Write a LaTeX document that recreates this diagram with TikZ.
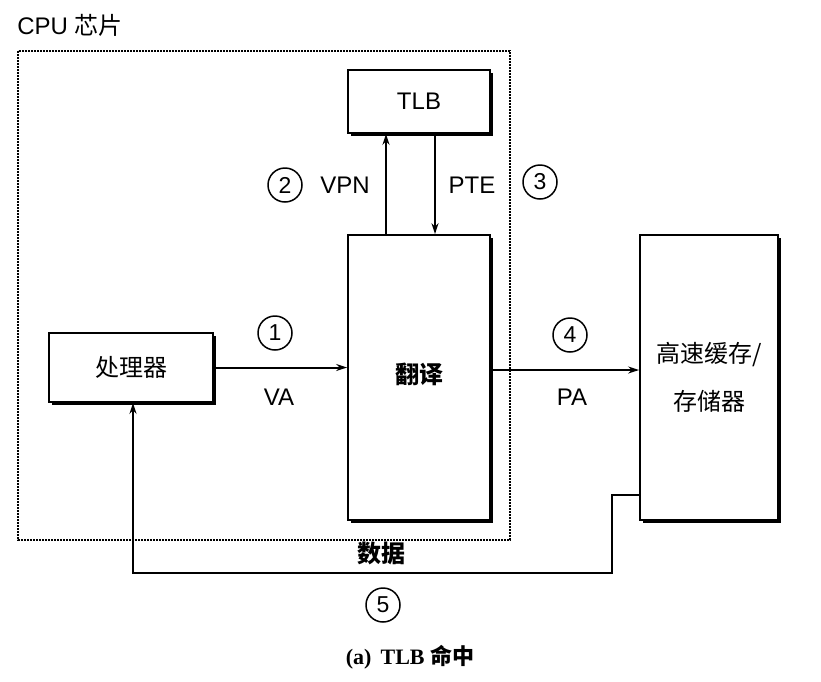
\documentclass[tikz,border=0pt]{standalone}
\usepackage{fontspec}
\setmainfont{Liberation Sans}
\newfontfamily\cjk{Noto Sans CJK SC}
\newfontfamily\capfont{Liberation Serif}
\usepackage{tikz}
\usetikzlibrary{positioning,arrows.meta,shadows}

\begin{document}
\begin{tikzpicture}[
  x=1pt, y=-1pt,
  >={Stealth[length=11pt,width=7pt]},
  line width=2pt,
  unit/.style={draw, fill=white, line width=1.8pt, inner sep=0pt,
    drop shadow={shadow xshift=3pt, shadow yshift=-3pt, fill=black, opacity=1}},
  num/.style={draw, circle, line width=1.5pt, minimum size=34pt, inner sep=0pt, font=\fontsize{23}{26}\selectfont},
  lbl/.style={font=\fontsize{24}{28}\selectfont},
  chip/.style={draw, line width=2pt, densely dotted},
]
\useasboundingbox (0,0) rectangle (821,681);

% chip outline
\draw[chip] (18,51) rectangle (510,540);
\node[lbl, anchor=west] (cpu) at (13,25) {CPU {\cjk 芯片}};

% units
\node[unit, minimum width=142pt, minimum height=63pt, lbl] (tlb) at (419,101.5) {TLB};
\node[unit, minimum width=142pt, minimum height=285pt] (trans) at (419,377.5)
  {\raisebox{9pt}{\fontsize{24}{28}\cjk\bfseries\selectfont 翻译}};
\node[unit, minimum width=164pt, minimum height=69pt, font=\fontsize{24}{28}\cjk\selectfont] (proc) at (131,367.5) {处理器};
\node[unit, minimum width=138pt, minimum height=285pt, align=center,
  font=\fontsize{24}{42}\cjk\selectfont] (mem) at (709,377.5) {\raisebox{6pt}{高速缓存/}\\存储器};

% connectors
\draw[->] ([xshift=-33pt]trans.north) -- ([xshift=-33pt]tlb.south);
\draw[->] ([xshift=16pt]tlb.south) -- ([xshift=16pt]trans.north);
\draw[->] (proc.east) -- (proc.east -| trans.west);
\draw[->] ([yshift=7.5pt]trans.east) -- ([yshift=7.5pt]mem.west);
\coordinate (d1) at (612,495);
\coordinate (d2) at (133,573);
\draw[->] (mem.west |- d1) -- (d1) |- (d2) -- (proc.south -| d2);

% labels
\node[num] (n2) at (285,185) {2};
\node[lbl] (vpn) at (345,185) {VPN};
\node[lbl] (pte) at (472,185) {PTE};
\node[num] (n3) at (540,182) {3};
\node[num] (n1) at (275,333) {1};
\node[lbl] (va) at (279,397) {VA};
\node[num] (n4) at (570,335) {4};
\node[lbl] (pa) at (572,397) {PA};
\node[font=\fontsize{24}{28}\cjk\bfseries\selectfont] (data) at (381,553) {数据};
\node[num] (n5) at (383,605) {5};

\node[font=\fontsize{22}{26}\selectfont] (cap) at (410,657) {\capfont\bfseries (a)\, TLB {\cjk 命中}};
\end{tikzpicture}
\end{document}
